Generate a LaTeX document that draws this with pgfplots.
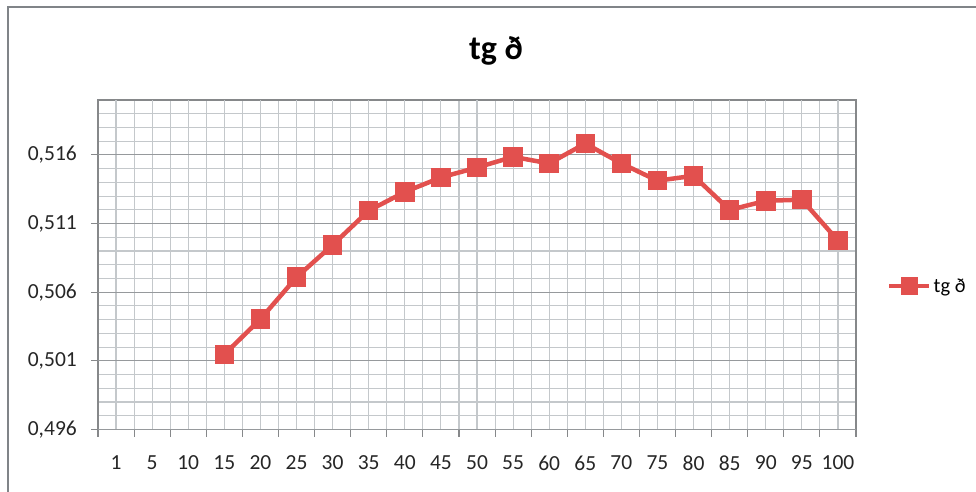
\documentclass[border=0pt]{standalone}
\usepackage{pgfplots}
\pgfplotsset{compat=1.18}
\usepackage{fontspec}
\setmainfont{Carlito}
\definecolor{serred}{RGB}{226,80,78}
\definecolor{majgrid}{RGB}{150,153,156}
\definecolor{mingrid}{RGB}{196,200,203}
\definecolor{axgray}{RGB}{134,136,138}
\definecolor{framegray}{RGB}{128,132,136}
\begin{document}
\begin{tikzpicture}[x=1pt,y=1pt]
\useasboundingbox (0,0) rectangle (976,492);
\draw[framegray,line width=2pt] (8,0) -- (8,484.5) -- (977,484.5);
\node[anchor=base,font=\bfseries\fontsize{34}{40}\selectfont] at (496,432) {tg ð};
\begin{axis}[
  at={(98pt,62.5pt)}, anchor=south west,
  width=758pt, height=329.5pt, scale only axis,
  xmin=-0.5, xmax=20.5, ymin=0.496, ymax=0.520,
  tick pos=left, tick align=outside,
  major tick length=7pt, minor tick length=0pt,
  xtick={-0.5,0.5,...,20.5}, xticklabels={},
  extra x ticks={0,1,...,20},
  extra x tick labels={1,5,10,15,20,25,30,35,40,45,50,55,60,65,70,75,80,85,90,95,100},
  extra x tick style={major tick length=0pt},
  ytick={0.496,0.501,0.506,0.511,0.516},
  extra y ticks={0.496,0.501,0.506,0.511,0.516},
  extra y tick labels={},
  extra y tick style={major grid style={color=majgrid, line width=1.1pt}},
  minor ytick={0.497,0.498,0.499,0.500,0.502,0.503,0.504,0.505,0.507,0.508,0.509,0.510,0.512,0.513,0.514,0.515,0.517,0.518,0.519,0.520},
  grid=both,
  major grid style={color=mingrid, line width=1.1pt},
  minor grid style={color=mingrid, line width=1.1pt},
  axis line style={color=axgray, line width=1.1pt},
  every tick/.style={color=axgray, line width=1.1pt},
  ticklabel style={font=\fontsize{21.5}{25}\selectfont, color=black!85},
  /pgf/number format/assume math mode=true,
  yticklabel style={/pgf/number format/fixed, /pgf/number format/fixed zerofill, /pgf/number format/precision=3, /pgf/number format/use comma},
  yticklabel style={inner sep=0pt, xshift=-14pt},
  xticklabel style={inner sep=0pt, yshift=-26pt},
  legend style={at={(1.0409,0.4355)}, anchor=west, draw=none, fill=none, inner sep=0pt,
    font=\fontsize{20.5}{24}\selectfont, cells={anchor=west}},
  legend image code/.code={\draw[mark repeat=2,mark phase=2,mark size=6.5pt,line width=4.5pt] plot coordinates {(0pt,0pt) (20pt,0pt) (40pt,0pt)};},
]
\addplot[color=serred, line width=4.5pt, mark=square*, mark size=7.5pt, mark options={solid}]
coordinates {
(3,0.50147) (4,0.50404) (5,0.50709) (6,0.50944) (7,0.51194) (8,0.51330)
(9,0.51436) (10,0.51508) (11,0.51586) (12,0.51538) (13,0.51683) (14,0.51538)
(15,0.51412) (16,0.51448) (17,0.51199) (18,0.51266) (19,0.51274) (20,0.50976)
};
\addlegendentry{tg ð}
\end{axis}
\end{tikzpicture}
\end{document}
